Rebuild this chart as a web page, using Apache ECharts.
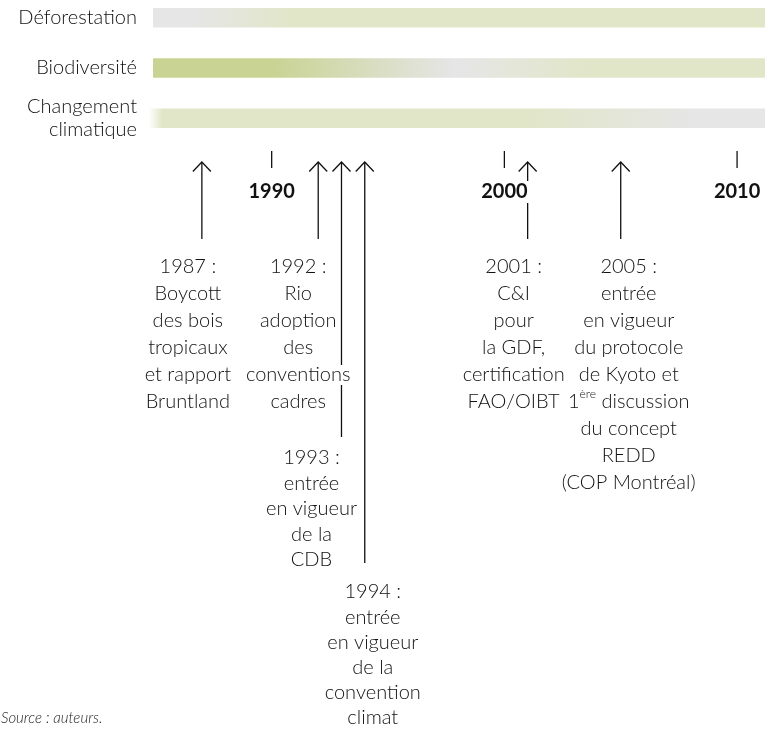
<!DOCTYPE html>
<html>
<head>
<meta charset="utf-8">
<title>Calendrier des priorités</title>
<script src="https://cdn.jsdelivr.net/npm/echarts@6/dist/echarts.min.js"></script>
<style>
  html, body { margin: 0; padding: 0; background: #fff; }
  #chart { width: 765px; height: 730px; }
</style>
</head>
<body>
<div id="chart"></div>
<script>
  var themes = ['Déforestation', 'Biodiversité', 'Changement\nclimatique'];

  // attention along the years: [year, level], level 0 fade, 1 grey, 2 light green, 3 green
  var deforestationLevels = [[1984.9, 1], [1986.5, 1], [1991, 2], [2011.2, 2]];
  var biodiversityLevels = [[1984.9, 3], [1990, 3], [1998, 1], [2003.5, 2], [2011.2, 2]];
  var climateLevels = [[1984.7, 0], [1985.3, 2], [2001, 2], [2008.5, 1], [2011.2, 1]];

  var yearTicks = [1990, 2000, 2010];

  var eventYears = [1987, 1992, 1993, 1994, 2001, 2005];
  var eventTexts = [
    '1987 :\nBoycott\ndes bois\ntropicaux\net rapport\nBruntland',
    '1992 :\nRio\nadoption\ndes\nconventions\ncadres',
    '1993 :\nentrée\nen vigueur\nde la\nCDB',
    '1994 :\nentrée\nen vigueur\nde la\nconvention\nclimat',
    '2001 :\nC&I\npour\nla GDF,\ncertification\nFAO/OIBT',
    '2005 :\nentrée\nen vigueur\ndu protocole\nde Kyoto et\n1ère discussion\ndu concept\nREDD\n(COP Montréal)'
  ];
  var sourceText = 'Source : auteurs.';

  var barLevels = [deforestationLevels, biodiversityLevels, climateLevels];
  var levelColors = ['#ffffff', '#e6e6e7', '#e1e6c8', '#c9d393'];

  // layout of the annotation blocks (label row and nudge so they don't collide)
  var labelTier = [0, 0, 1, 2, 0, 0];
  var labelDx = [-14, -20, -30, 8, -14, 8];
  var tierTextY = [267, 458, 592];
  var tierLineH = [27, 25.5, 25.2];
  var tierArrowEnd = [239, 437, 563];

  var FONT = 'Lato, "Open Sans", sans-serif';
  var INK = '#111';
  var X_MIN = 1984.9, X_MAX = 2011.2;

  function richLine(line) {
    if (line.indexOf('1ère') === 0) {
      return '{t|1}{s|ère}{t|' + line.slice(4) + '}';
    }
    return '{t|' + line + '}';
  }

  var chart = echarts.init(document.getElementById('chart'));

  chart.setOption({
    animation: false,
    title: {
      text: sourceText,
      left: 1,
      top: 709,
      padding: 0,
      textStyle: {
        fontFamily: FONT,
        fontStyle: 'italic',
        fontWeight: 300,
        fontSize: 15,
        lineHeight: 18,
        color: '#222'
      }
    },
    grid: [
      { left: 153, right: 0, top: 17.5, height: 100.5, outerBoundsMode: 'none' },
      { left: 153, right: 0, top: 140, bottom: 0, outerBoundsMode: 'none' }
    ],
    xAxis: [
      { type: 'value', gridIndex: 0, min: X_MIN, max: X_MAX, show: false },
      { type: 'value', gridIndex: 1, min: X_MIN, max: X_MAX, show: false }
    ],
    yAxis: [
      {
        type: 'category',
        gridIndex: 0,
        data: themes,
        inverse: true,
        boundaryGap: false,
        axisLine: { show: false },
        axisTick: { show: false },
        splitLine: { show: false },
        axisLabel: {
          interval: 0,
          margin: 16,
          fontFamily: FONT,
          fontWeight: 300,
          fontSize: 20,
          lineHeight: 23,
          color: INK
        }
      },
      { type: 'value', gridIndex: 1, min: 0, max: 1, show: false }
    ],
    series: [
      {
        // theme bars, colour follows the attention level
        type: 'custom',
        xAxisIndex: 0,
        yAxisIndex: 0,
        data: barLevels.map(function (lv, i) { return [lv[0][0], i]; }),
        renderItem: function (params, api) {
          var i = api.value(1);
          var lv = barLevels[i];
          var p0 = api.coord([lv[0][0], i]);
          var x1 = api.coord([lv[lv.length - 1][0], i])[0];
          var w = x1 - p0[0];
          var stops = lv.map(function (s) {
            return {
              offset: (api.coord([s[0], i])[0] - p0[0]) / w,
              color: levelColors[s[1]]
            };
          });
          return {
            type: 'rect',
            shape: { x: p0[0], y: p0[1] - 9.5, width: w, height: 19.5 },
            style: {
              fill: { type: 'linear', x: 0, y: 0, x2: 1, y2: 0, colorStops: stops }
            }
          };
        }
      },
      {
        // decade ticks
        type: 'custom',
        xAxisIndex: 1,
        yAxisIndex: 1,
        data: yearTicks.map(function (y) { return [y, 0]; }),
        renderItem: function (params, api) {
          var x = api.coord([api.value(0), 0])[0];
          return {
            type: 'group',
            children: [
              {
                type: 'line',
                shape: { x1: x, y1: 151, x2: x, y2: 168 },
                style: { stroke: INK, lineWidth: 1.3 }
              },
              {
                type: 'text',
                z2: 10,
                x: x,
                y: 192,
                style: {
                  text: String(api.value(0)),
                  align: 'center',
                  verticalAlign: 'middle',
                  fontFamily: FONT,
                  fontWeight: 'bold',
                  fontSize: 20,
                  fill: INK,
                  backgroundColor: '#fff',
                  padding: [1, 2]
                }
              }
            ]
          };
        }
      },
      {
        // events
        type: 'custom',
        xAxisIndex: 1,
        yAxisIndex: 1,
        data: eventYears.map(function (y) { return [y, 0]; }),
        renderItem: function (params, api) {
          var k = params.dataIndex;
          var x = api.coord([api.value(0), 0])[0];
          var tier = labelTier[k];
          var lh = tierLineH[tier];
          var tip = 162;
          var text = eventTexts[k].split('\n').map(richLine).join('\n');
          return {
            type: 'group',
            children: [
              {
                type: 'line',
                z2: 1,
                shape: { x1: x, y1: tip, x2: x, y2: tierArrowEnd[tier] },
                style: { stroke: INK, lineWidth: 1.3 }
              },
              {
                type: 'polyline',
                z2: 1,
                shape: { points: [[x - 9, tip + 9.5], [x, tip], [x + 9, tip + 9.5]] },
                style: { stroke: INK, lineWidth: 1.3, fill: null }
              },
              {
                type: 'text',
                z2: 10,
                x: x + labelDx[k],
                y: tierTextY[tier] - lh / 2,
                style: {
                  text: text,
                  align: 'center',
                  verticalAlign: 'top',
                  fontFamily: FONT,
                  fontSize: 20,
                  fill: INK,
                  rich: {
                    t: {
                      fontFamily: FONT, fontWeight: 300, fontSize: 20,
                      lineHeight: lh, fill: INK, backgroundColor: '#fff'
                    },
                    s: {
                      fontFamily: FONT, fontWeight: 300, fontSize: 12,
                      lineHeight: 14, verticalAlign: 'top', fill: INK,
                      backgroundColor: '#fff'
                    }
                  }
                }
              }
            ]
          };
        }
      }
    ]
  });
</script>
</body>
</html>
